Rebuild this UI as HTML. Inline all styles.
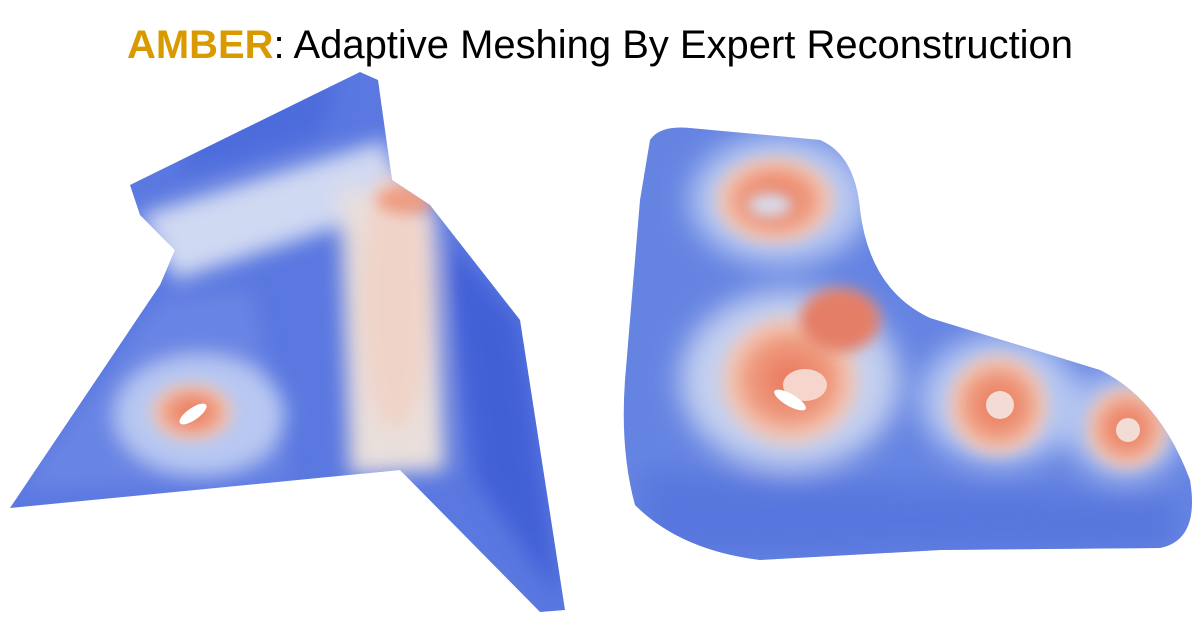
<!DOCTYPE html>
<html><head><meta charset="utf-8"><style>
html,body{margin:0;padding:0;background:#fff;width:1200px;height:620px;overflow:hidden}
</style></head><body>
<svg width="1200" height="620" viewBox="0 0 1200 620" xmlns="http://www.w3.org/2000/svg">
<defs>
<filter id="b" x="-50%" y="-50%" width="200%" height="200%"><feGaussianBlur stdDeviation="14"/></filter>
<filter id="b3" x="-50%" y="-50%" width="200%" height="200%"><feGaussianBlur stdDeviation="10"/></filter>
<filter id="b2" x="-50%" y="-50%" width="200%" height="200%"><feGaussianBlur stdDeviation="7"/></filter>
<radialGradient id="ring" cx="50%" cy="50%" r="50%">
<stop offset="0" stop-color="#e9765a"/><stop offset="0.55" stop-color="#ef9a7e"/><stop offset="0.8" stop-color="#f3c6b4"/><stop offset="1" stop-color="#f3c6b4" stop-opacity="0"/></radialGradient>
<clipPath id="cl"><polygon points="130,185 360,72 378,80 392,180 430,205 520,320 565,610 540,612 400,470 10,508 160,285 175,250 140,215"/></clipPath>
<clipPath id="cr"><path d="M650,140 Q660,125 690,128 L820,140 Q855,155 860,210 Q870,290 930,318 L1100,370 Q1160,400 1190,480 Q1200,540 1160,548 L940,550 L760,560 Q680,550 635,505 Q620,450 625,380 L640,200 Z"/></clipPath>
</defs>
<text x="600" y="58" text-anchor="middle" font-family="Liberation Sans, sans-serif" font-size="40" textLength="946" lengthAdjust="spacingAndGlyphs"><tspan fill="#d99a00" font-weight="bold">AMBER</tspan><tspan fill="#000">: Adaptive Meshing By Expert Reconstruction</tspan></text>

<g clip-path="url(#cl)">
<rect x="0" y="60" width="600" height="560" fill="#5a78e0"/>
<g filter="url(#b3)">
<polygon points="140,215 385,140 405,205 175,280" fill="#d0d9f2"/>
<polygon points="340,185 435,210 445,470 350,475" fill="#e9dfdc"/>
<polygon points="445,240 520,320 560,600 475,480" fill="#4260d6"/>
<polygon points="20,490 160,300 250,290 290,480" fill="#6985e4"/>
<ellipse cx="200" cy="415" rx="85" ry="60" fill="#b8c8f2"/>
<ellipse cx="395" cy="300" rx="35" ry="130" fill="#f0d3c8"/>
<polygon points="200,100 340,75 320,135 180,175" fill="#4d6cdc"/>
</g>
<ellipse cx="192" cy="412" rx="45" ry="32" fill="url(#ring)" filter="url(#b2)"/>
<ellipse cx="405" cy="200" rx="28" ry="14" fill="#ef9c82" filter="url(#b2)"/>
<ellipse cx="193" cy="414" rx="16" ry="6" transform="rotate(-35 193 414)" fill="#fff"/>
</g>

<g clip-path="url(#cr)">
<rect x="600" y="100" width="600" height="480" fill="#6584e2"/>
<g filter="url(#b)">
<ellipse cx="780" cy="200" rx="90" ry="65" fill="#b7c8f2"/>
<ellipse cx="790" cy="380" rx="110" ry="90" fill="#c4d0f0"/>
<ellipse cx="1000" cy="400" rx="80" ry="65" fill="#b7c8f2"/>
<ellipse cx="1125" cy="425" rx="60" ry="55" fill="#b0c2f0"/>
<polygon points="640,470 1180,500 1170,550 640,560" fill="#5877de"/>
</g>
<ellipse cx="775" cy="200" rx="65" ry="48" fill="url(#ring)" filter="url(#b2)"/>
<ellipse cx="790" cy="380" rx="75" ry="70" fill="url(#ring)" filter="url(#b2)"/>
<ellipse cx="840" cy="320" rx="40" ry="32" fill="#e57e66" filter="url(#b2)"/>
<ellipse cx="998" cy="405" rx="55" ry="55" fill="url(#ring)" filter="url(#b2)"/>
<ellipse cx="1127" cy="428" rx="45" ry="45" fill="url(#ring)" filter="url(#b2)"/>
<ellipse cx="770" cy="205" rx="22" ry="12" fill="#d8ddee" filter="url(#b2)"/>
<ellipse cx="805" cy="385" rx="22" ry="16" fill="#f6d6cc"/>
<ellipse cx="1000" cy="405" rx="14" ry="14" fill="#f3dcd4"/>
<ellipse cx="1128" cy="430" rx="12" ry="12" fill="#f3dcd4"/>
<ellipse cx="790" cy="400" rx="18" ry="6" transform="rotate(30 790 400)" fill="#fff"/>
</g>
</svg>
</body></html>
